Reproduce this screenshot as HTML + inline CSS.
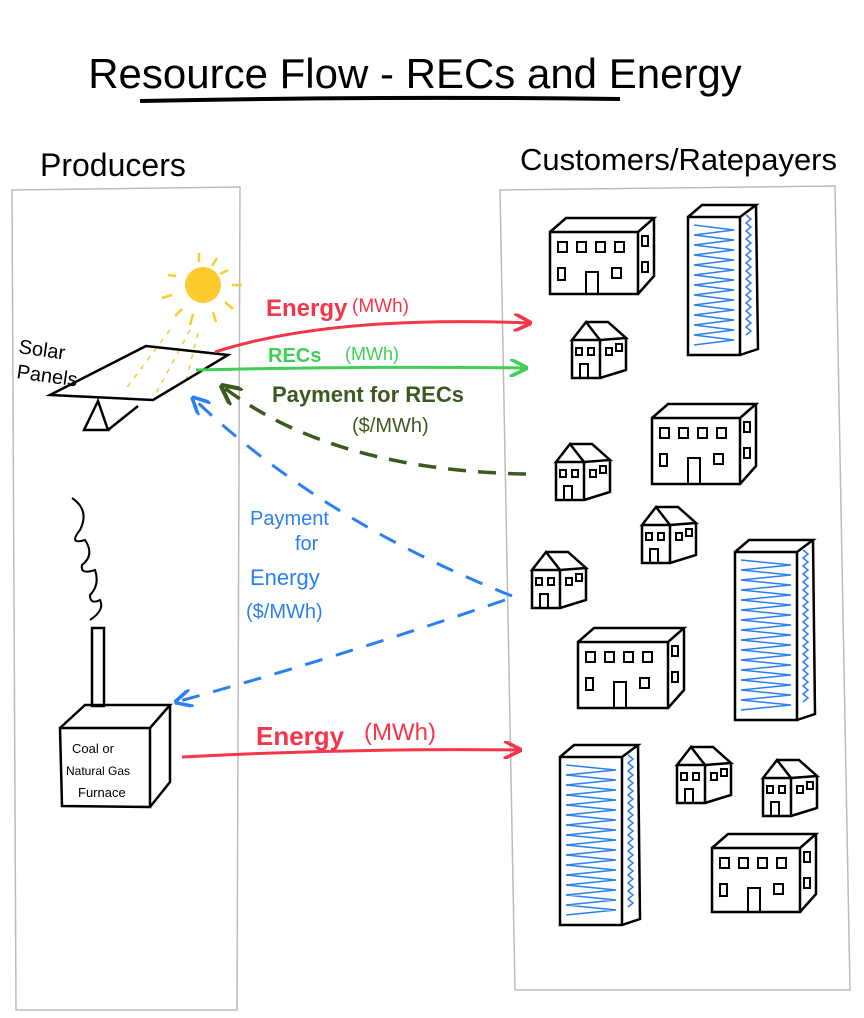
<!DOCTYPE html>
<html><head><meta charset="utf-8"><style>
html,body{margin:0;padding:0;background:#fff;}
svg{display:block;}
text{font-family:"Liberation Sans",sans-serif;}
</style></head><body>
<svg id="s" width="864" height="1018" viewBox="0 0 864 1018" xmlns="http://www.w3.org/2000/svg">
<defs>
<marker id="ar" viewBox="0 0 10 10" refX="9" refY="5" markerWidth="6" markerHeight="6" orient="auto-start-reverse"><path d="M0,0 L10,5 L0,10" fill="none" stroke="context-stroke" stroke-width="2"/></marker>
</defs>
<text x="415" y="88" text-anchor="middle" font-size="42" fill="#000">Resource Flow - RECs and Energy</text>
<path d="M140,101 Q380,96 620,99" stroke="#000" stroke-width="4" fill="none"/>
<text x="40" y="176" font-size="32" fill="#000">Producers</text>
<text x="520" y="170" font-size="31" fill="#000">Customers/Ratepayers</text>
<path d="M12,190 L240,187 L237,1010 L16,1010 Z" stroke="#bbb" stroke-width="1.5" fill="none"/>
<path d="M500,190 L835,186 L850,990 L515,990 Z" stroke="#bbb" stroke-width="1.5" fill="none"/>
<g>
<circle cx="203" cy="285" r="18" fill="#fdcb2e"/>
<g stroke="#fdcb2e" stroke-width="2.5">
<line x1="199" y1="253" x2="199" y2="262"/><line x1="217" y1="258" x2="212" y2="266"/><line x1="228" y1="270" x2="220" y2="274"/><line x1="232" y1="285" x2="242" y2="285"/><line x1="225" y1="302" x2="233" y2="309"/><line x1="213" y1="312" x2="216" y2="322"/><line x1="193" y1="314" x2="190" y2="325"/><line x1="172" y1="295" x2="162" y2="298"/><line x1="176" y1="276" x2="168" y2="275"/><line x1="182" y1="309" x2="175" y2="316"/>
</g>
<g stroke="#fdcb2e" stroke-width="1.5" stroke-dasharray="5 6"><line x1="170" y1="330" x2="125" y2="390"/><line x1="190" y1="330" x2="155" y2="395"/><line x1="198" y1="333" x2="185" y2="385"/></g>
</g>
<g stroke="#000" stroke-width="2.5" fill="none">
<path d="M50,395 L146,346 L228,355 L153,400 Z"/>
<path d="M84,430 L98,401 L108,430 Z M108,430 L138,406"/>
</g>
<text x="18" y="353" font-size="20" fill="#000" transform="rotate(8 18 353)">Solar</text>
<text x="16" y="378" font-size="20" fill="#000" transform="rotate(8 16 378)">Panels</text>
<g><path d="M72,498 Q90,510 80,530 Q68,545 85,540 Q95,555 82,565 Q80,575 95,570 Q100,585 90,595 Q90,605 100,600 Q105,610 90,620" stroke="#000" stroke-width="2" fill="none"/></g>
<g stroke="#000" stroke-width="2.5" fill="none">
<rect x="92" y="628" width="12" height="78"/>
<path d="M60,728 L150,728 L150,807 L62,806 Z M60,728 L85,705 L170,705 L150,728 M170,705 L170,782 L150,807"/>
</g>
<text x="72" y="753" font-size="13" fill="#000">Coal or</text>
<text x="66" y="775" font-size="12" fill="#000">Natural Gas</text>
<text x="78" y="797" font-size="13" fill="#000">Furnace</text>
<path d="M215,352 Q330,315 530,323" stroke="#f5364a" stroke-width="3" fill="none" marker-end="url(#ar)"/>
<text x="266" y="316" font-size="24" font-weight="bold" fill="#f5364a">Energy</text>
<text x="352" y="312" font-size="19" fill="#f5364a">(MWh)</text>
<path d="M196,370 Q360,366 526,368" stroke="#3fcf56" stroke-width="3" fill="none" marker-end="url(#ar)"/>
<text x="268" y="362" font-size="20" font-weight="bold" fill="#3fcf56">RECs</text>
<text x="345" y="360" font-size="18" fill="#3fcf56">(MWh)</text>
<path d="M526,474 Q330,470 222,386" stroke="#3c5a1f" stroke-width="3.5" fill="none" stroke-dasharray="18 12" marker-end="url(#ar)"/>
<text x="272" y="402" font-size="22" font-weight="bold" fill="#3c5a1f">Payment for RECs</text>
<text x="352" y="432" font-size="20" fill="#3c5a1f">($/MWh)</text>
<path d="M512,596 Q320,520 193,398" stroke="#2b7ff0" stroke-width="3" fill="none" stroke-dasharray="18 14" marker-end="url(#ar)"/>
<path d="M505,600 Q330,660 176,702" stroke="#2b7ff0" stroke-width="3" fill="none" stroke-dasharray="18 14" marker-end="url(#ar)"/>
<text x="250" y="525" font-size="20" fill="#2b7ff0">Payment</text>
<text x="295" y="550" font-size="20" fill="#2b7ff0">for</text>
<text x="250" y="585" font-size="22" fill="#2b7ff0">Energy</text>
<text x="246" y="618" font-size="20" fill="#2b7ff0">($/MWh)</text>
<path d="M182,757 Q350,748 520,750" stroke="#f5364a" stroke-width="3" fill="none" marker-end="url(#ar)"/>
<text x="256" y="745" font-size="26" font-weight="bold" fill="#f5364a">Energy</text>
<text x="364" y="740" font-size="24" fill="#f5364a">(MWh)</text>
<g id="bld"></g>
</svg>
<script>
var ns="http://www.w3.org/2000/svg";
var g=document.getElementById('bld');
function mk(tag,a,p){var e=document.createElementNS(ns,tag);for(var k in a)e.setAttribute(k,a[k]);(p||g).appendChild(e);return e;}
var st={stroke:"#000","stroke-width":"2.5",fill:"none"};
function A(o){var r={};for(var k in st)r[k]=st[k];for(var k in o)r[k]=o[k];return r;}
var towers=[[688,205,52,150],[735,540,62,180],[560,745,62,180]];
towers.forEach(function(t){
 var x=t[0],y=t[1],w=t[2],h=t[3],grp=mk('g',{});
 
 
 var d='M'+x+','+(y+12)+' L'+(x+w)+','+(y+12)+' L'+(x+w)+','+(y+h)+' L'+x+','+(y+h)+' Z M'+x+','+(y+12)+' L'+(x+14)+','+y+' L'+(x+w+16)+','+y+' L'+(x+w)+','+(y+12)+' M'+(x+w+16)+','+y+' L'+(x+w+18)+','+(y+h-6)+' L'+(x+w)+','+(y+h);
 mk('path',A({d:d}),grp);
 var s='M'+(x+6)+','+(y+20);var n=Math.floor((h-30)/10);
 for(var i=0;i<n;i++){var yy=y+20+i*10;s+=' L'+(x+w-6)+','+(yy+5)+' L'+(x+6)+','+(yy+10);}
 mk('path',{d:s,stroke:"#2b7ff0","stroke-width":"1.5",fill:"none"},grp);
 var s2='M'+(x+w+6)+','+(y+10);var n2=Math.floor((h-24)/8);
 for(var i=0;i<n2;i++){s2+=' l5,4 l-5,4';}
 mk('path',{d:s2,stroke:"#2b7ff0","stroke-width":"1.5",fill:"none"},grp);
});
var apts=[[550,232,88,62],[652,418,88,66],[578,642,90,66],[712,848,88,64]];
apts.forEach(function(t){
 var x=t[0],y=t[1],w=t[2],h=t[3],grp=mk('g',{});
 
 
 mk('path',A({d:'M'+x+','+y+' h'+w+' v'+h+' h-'+w+' Z M'+x+','+y+' l16,-14 h'+w+' l-16,14 M'+(x+w+16)+','+(y-14)+' v'+(h-4)+' l-16,18'}),grp);
 for(var i=0;i<4;i++){mk('rect',A({x:x+8+i*19,y:y+10,width:9,height:10,"stroke-width":"2"}),grp);}
 mk('rect',A({x:x+8,y:y+36,width:7,height:12,"stroke-width":"2"}),grp);
 mk('rect',A({x:x+36,y:y+40,width:12,height:h-40,"stroke-width":"2"}),grp);
 mk('rect',A({x:x+62,y:y+36,width:9,height:10,"stroke-width":"2"}),grp);
 mk('rect',A({x:x+w+4,y:y+4,width:6,height:10,"stroke-width":"2"}),grp);
 mk('rect',A({x:x+w+4,y:y+30,width:6,height:10,"stroke-width":"2"}),grp);
});
var houses=[[572,340],[556,462],[642,525],[532,570],[677,765],[763,778]];
houses.forEach(function(t){
 var x=t[0],y=t[1],grp=mk('g',{});
 
 
 mk('path',A({d:'M'+x+','+y+' l14,-18 l14,18 Z M'+x+','+y+' v38 h28 v-38 M'+(x+14)+','+(y-18)+' h22 l18,16 l-26,2 M'+(x+54)+','+(y-2)+' v32 l-26,8'}),grp);
 mk('rect',A({x:x+4,y:y+8,width:6,height:7,"stroke-width":"2"}),grp);
 mk('rect',A({x:x+16,y:y+8,width:6,height:7,"stroke-width":"2"}),grp);
 mk('rect',A({x:x+8,y:y+24,width:8,height:14,"stroke-width":"2"}),grp);
 mk('rect',A({x:x+34,y:y+8,width:6,height:7,"stroke-width":"2"}),grp);
 mk('rect',A({x:x+44,y:y+4,width:6,height:7,"stroke-width":"2"}),grp);
});
</script>
</body></html>
